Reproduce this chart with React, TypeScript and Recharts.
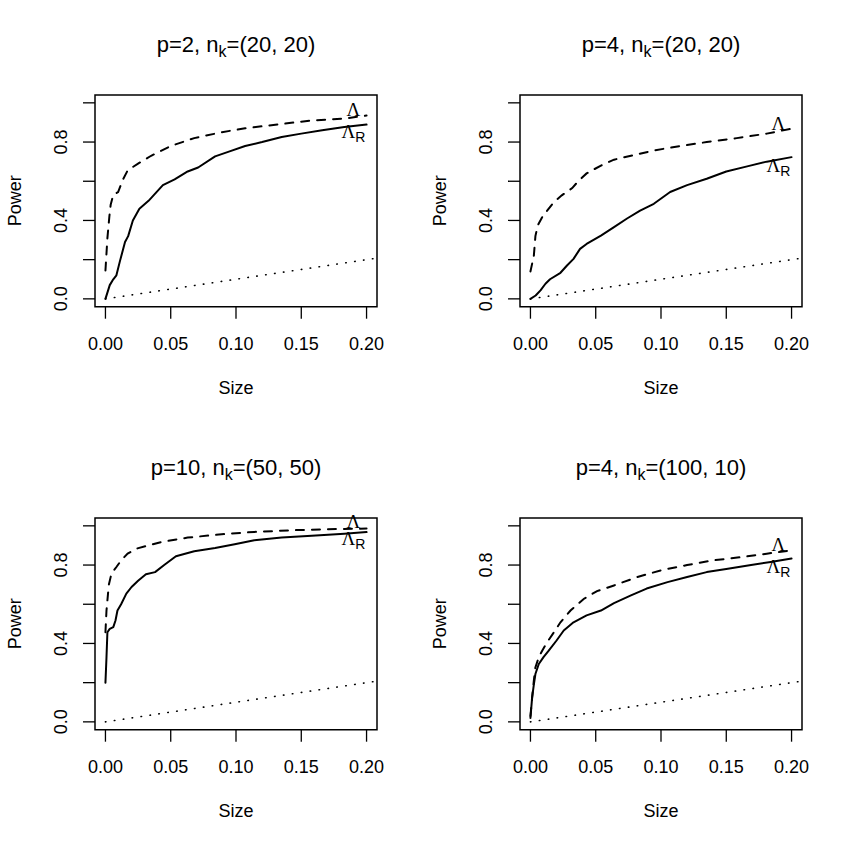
import React from 'react';
import { LineChart, Line, XAxis, YAxis, ReferenceArea, ReferenceDot, Label } from 'recharts';

const FONT = '"Liberation Sans", Arial, Helvetica, sans-serif';
const SERIF = '"Liberation Serif", "DejaVu Serif", serif';

// axis ticks
const sizeTicks = [0, 0.05, 0.1, 0.15, 0.2];
const powerTicks = [0, 0.2, 0.4, 0.6, 0.8, 1.0];
const powerTickLabels = ['0.0', '', '0.4', '', '0.8', ''];
const sizeDomain = [-0.008, 0.208];
const powerDomain = [-0.04, 1.04];

// titles
const titleP = ['2', '4', '10', '4'];
const titleN = ['(20, 20)', '(20, 20)', '(50, 50)', '(100, 10)'];

// size = power reference (dotted)
const diagX = [0, 0.208];
const diagY = [0, 0.208];

// Panel 1: p=2, nk=(20,20)
const p1LamX = [0, 0.0015, 0.003, 0.004, 0.006, 0.0097, 0.0135, 0.017, 0.025, 0.035, 0.05, 0.068, 0.089, 0.107, 0.132, 0.158, 0.183, 0.2];
const p1LamY = [0.145, 0.31, 0.42, 0.48, 0.53, 0.545, 0.61, 0.655, 0.69, 0.73, 0.78, 0.82, 0.85, 0.87, 0.89, 0.91, 0.92, 0.935];
const p1LamRX = [0, 0.0033, 0.006, 0.0084, 0.011, 0.015, 0.0174, 0.021, 0.026, 0.033, 0.044, 0.053, 0.063, 0.071, 0.084, 0.094, 0.107, 0.12, 0.135, 0.15, 0.166, 0.183, 0.2];
const p1LamRY = [0, 0.07, 0.1, 0.12, 0.19, 0.29, 0.32, 0.4, 0.46, 0.5, 0.58, 0.61, 0.65, 0.67, 0.727, 0.75, 0.78, 0.8, 0.826, 0.843, 0.86, 0.877, 0.889];

// Panel 2: p=4, nk=(20,20)
const p2LamX = [0, 0.0026, 0.0038, 0.0056, 0.009, 0.0128, 0.018, 0.024, 0.032, 0.036, 0.043, 0.054, 0.064, 0.077, 0.0945, 0.115, 0.135, 0.158, 0.181, 0.2];
const p2LamY = [0.14, 0.22, 0.32, 0.375, 0.417, 0.45, 0.494, 0.528, 0.565, 0.596, 0.64, 0.68, 0.71, 0.73, 0.757, 0.78, 0.8, 0.82, 0.843, 0.868];
const p2LamRX = [0, 0.004, 0.0077, 0.0115, 0.015, 0.023, 0.028, 0.033, 0.038, 0.043, 0.054, 0.064, 0.074, 0.084, 0.0945, 0.107, 0.12, 0.135, 0.15, 0.166, 0.181, 0.2];
const p2LamRY = [0, 0.017, 0.043, 0.077, 0.1, 0.133, 0.17, 0.204, 0.255, 0.28, 0.323, 0.366, 0.41, 0.45, 0.485, 0.545, 0.58, 0.613, 0.65, 0.676, 0.7, 0.723];

// Panel 3: p=10, nk=(50,50)
const p3LamX = [0, 0.0008, 0.0026, 0.0046, 0.0084, 0.012, 0.017, 0.024, 0.033, 0.043, 0.063, 0.089, 0.114, 0.145, 0.17, 0.2];
const p3LamY = [0.457, 0.568, 0.7, 0.756, 0.79, 0.824, 0.858, 0.884, 0.9, 0.918, 0.94, 0.957, 0.969, 0.978, 0.983, 0.986];
const p3LamRX = [0, 0.0008, 0.0015, 0.0033, 0.006, 0.0077, 0.0092, 0.012, 0.016, 0.02, 0.025, 0.031, 0.038, 0.045, 0.054, 0.068, 0.084, 0.099, 0.114, 0.135, 0.158, 0.183, 0.2];
const p3LamRY = [0.2, 0.33, 0.457, 0.474, 0.483, 0.517, 0.568, 0.6, 0.654, 0.688, 0.72, 0.753, 0.764, 0.8, 0.845, 0.87, 0.887, 0.906, 0.927, 0.94, 0.95, 0.96, 0.968];

// Panel 4: p=4, nk=(100,10)
const p4LamX = [0, 0.0013, 0.0026, 0.0038, 0.0064, 0.009, 0.0128, 0.018, 0.023, 0.0307, 0.041, 0.051, 0.064, 0.082, 0.1, 0.12, 0.14, 0.161, 0.181, 0.2];
const p4LamY = [0.03, 0.125, 0.21, 0.278, 0.33, 0.363, 0.406, 0.457, 0.508, 0.568, 0.628, 0.667, 0.696, 0.739, 0.773, 0.8, 0.824, 0.84, 0.858, 0.875];
const p4LamRX = [0, 0.0013, 0.0026, 0.0038, 0.0064, 0.01, 0.014, 0.02, 0.0255, 0.033, 0.043, 0.054, 0.064, 0.077, 0.089, 0.105, 0.12, 0.135, 0.15, 0.169, 0.184, 0.2];
const p4LamRY = [0.02, 0.125, 0.19, 0.244, 0.295, 0.33, 0.363, 0.415, 0.466, 0.508, 0.543, 0.568, 0.606, 0.645, 0.68, 0.713, 0.739, 0.764, 0.78, 0.8, 0.816, 0.833];

const labelSize = 0.19;

const lamXs = [p1LamX, p2LamX, p3LamX, p4LamX];
const lamYs = [p1LamY, p2LamY, p3LamY, p4LamY];
const lamRXs = [p1LamRX, p2LamRX, p3LamRX, p4LamRX];
const lamRYs = [p1LamRY, p2LamRY, p3LamRY, p4LamRY];

const zip = (xs: number[], ys: number[]) => xs.map((x, i) => ({ x, y: ys[i] }));
const interp = (xs: number[], ys: number[], x: number) => {
  for (let i = 1; i < xs.length; i++) {
    if (x <= xs[i]) {
      const t = (x - xs[i - 1]) / (xs[i] - xs[i - 1]);
      return ys[i - 1] + t * (ys[i] - ys[i - 1]);
    }
  }
  return ys[ys.length - 1];
};

const W = 425;
const H = 424;
const PLOT_LEFT = 95;
const PLOT_TOP = 95;
const PLOT_W = 282;
const PLOT_H = 211.7;
const YAXIS_W = 60;
const XAXIS_H = 60;

const XTick = (props: any) => {
  const { x, y, payload } = props;
  return (
    <text x={x} y={y} dy={14} textAnchor="middle" fontFamily={FONT} fontSize={18} fill="#000">
      {Number(payload.value).toFixed(2)}
    </text>
  );
};

const YTick = (props: any) => {
  const { x, y, payload } = props;
  const i = powerTicks.findIndex((v) => Math.abs(v - payload.value) < 1e-9);
  const label = i >= 0 ? powerTickLabels[i] : '';
  if (!label) return <g />;
  return (
    <text x={x} y={y} transform={`rotate(-90, ${x}, ${y})`} textAnchor="middle" fontFamily={FONT} fontSize={18} fill="#000">
      {label}
    </text>
  );
};

const LambdaMark = (props: any) => {
  const { cx, cy } = props;
  return (
    <text x={cx} y={cy - 1} textAnchor="middle" fontFamily={SERIF} fontSize={19} fill="#000">
      Λ
    </text>
  );
};

const LambdaRMark = (props: any) => {
  const { cx, cy } = props;
  return (
    <text x={cx} y={cy + 12} textAnchor="middle" fontFamily={SERIF} fontSize={19} fill="#000">
      Λ
      <tspan fontFamily={FONT} fontSize={14} dy={4}>R</tspan>
    </text>
  );
};

function Panel({ idx, left, top }: { idx: number; left: number; top: number }) {
  const lam = zip(lamXs[idx], lamYs[idx]);
  const lamR = zip(lamRXs[idx], lamRYs[idx]);
  const diag = zip(diagX, diagY);
  const lamAt = interp(lamXs[idx], lamYs[idx], labelSize);
  const lamRAt = interp(lamRXs[idx], lamRYs[idx], labelSize);
  const cx = PLOT_LEFT + PLOT_W / 2;
  return (
    <div style={{ position: 'absolute', left, top, width: W, height: H }}>
      <LineChart
        width={W}
        height={H}
        margin={{ top: PLOT_TOP, left: PLOT_LEFT - YAXIS_W, right: W - PLOT_LEFT - PLOT_W, bottom: H - PLOT_TOP - PLOT_H - XAXIS_H }}
      >
        <XAxis
          dataKey="x"
          type="number"
          domain={sizeDomain}
          ticks={sizeTicks}
          allowDataOverflow
          height={XAXIS_H}
          axisLine={false}
          tickLine={{ stroke: '#000', strokeWidth: 1.3 }}
          tickSize={12}
          tickMargin={17}
          tick={<XTick />}
          interval={0}
        >
          <Label
            content={() => (
              <text x={cx} y={PLOT_TOP + PLOT_H + 87} textAnchor="middle" fontFamily={FONT} fontSize={18} fill="#000">
                Size
              </text>
            )}
          />
        </XAxis>
        <YAxis
          type="number"
          domain={powerDomain}
          ticks={powerTicks}
          allowDataOverflow
          width={YAXIS_W}
          axisLine={false}
          tickLine={{ stroke: '#000', strokeWidth: 1.3 }}
          tickSize={12}
          tickMargin={16}
          tick={<YTick />}
          interval={0}
        >
          <Label
            content={() => {
              const lx = 21.5;
              const ly = PLOT_TOP + PLOT_H / 2;
              return (
                <text x={lx} y={ly} transform={`rotate(-90, ${lx}, ${ly})`} textAnchor="middle" fontFamily={FONT} fontSize={18} fill="#000">
                  Power
                </text>
              );
            }}
          />
        </YAxis>
        <ReferenceArea
          x1={sizeDomain[0]}
          x2={sizeDomain[1]}
          y1={powerDomain[0]}
          y2={powerDomain[1]}
          fill="none"
          stroke="#000"
          strokeWidth={1.5}
          ifOverflow="visible"
        />
        <Line
          data={diag}
          dataKey="y"
          type="linear"
          stroke="#000"
          strokeWidth={1.6}
          strokeDasharray="0.5 8.5"
          strokeLinecap="round"
          dot={false}
          isAnimationActive={false}
        />
        <Line
          data={lam}
          dataKey="y"
          type="linear"
          stroke="#000"
          strokeWidth={2}
          strokeDasharray="8 8"
          strokeLinecap="round"
          dot={false}
          isAnimationActive={false}
        />
        <Line
          data={lamR}
          dataKey="y"
          type="linear"
          stroke="#000"
          strokeWidth={2}
          strokeLinecap="round"
          strokeLinejoin="round"
          dot={false}
          isAnimationActive={false}
        />
        <ReferenceDot x={labelSize} y={lamAt} r={0} ifOverflow="visible" shape={(p: any) => <LambdaMark {...p} />} />
        <ReferenceDot x={labelSize} y={lamRAt} r={0} ifOverflow="visible" shape={(p: any) => <LambdaRMark {...p} />} />
      </LineChart>
      <svg width={W} height={H} style={{ position: 'absolute', left: 0, top: 0, pointerEvents: 'none' }}>
        <text x={cx} y={52} textAnchor="middle" fontFamily={FONT} fontSize={22} fill="#000">
          {`p=${titleP[idx]}, n`}
          <tspan fontSize={16} dy={5}>k</tspan>
          <tspan dy={-5}>{`=${titleN[idx]}`}</tspan>
        </text>
      </svg>
    </div>
  );
}

export default function App() {
  return (
    <div style={{ position: 'absolute', left: 0, top: 0, width: 850, height: 849, background: '#fff' }}>
      <Panel idx={0} left={0} top={0} />
      <Panel idx={1} left={425} top={0} />
      <Panel idx={2} left={0} top={423} />
      <Panel idx={3} left={425} top={423} />
    </div>
  );
}
